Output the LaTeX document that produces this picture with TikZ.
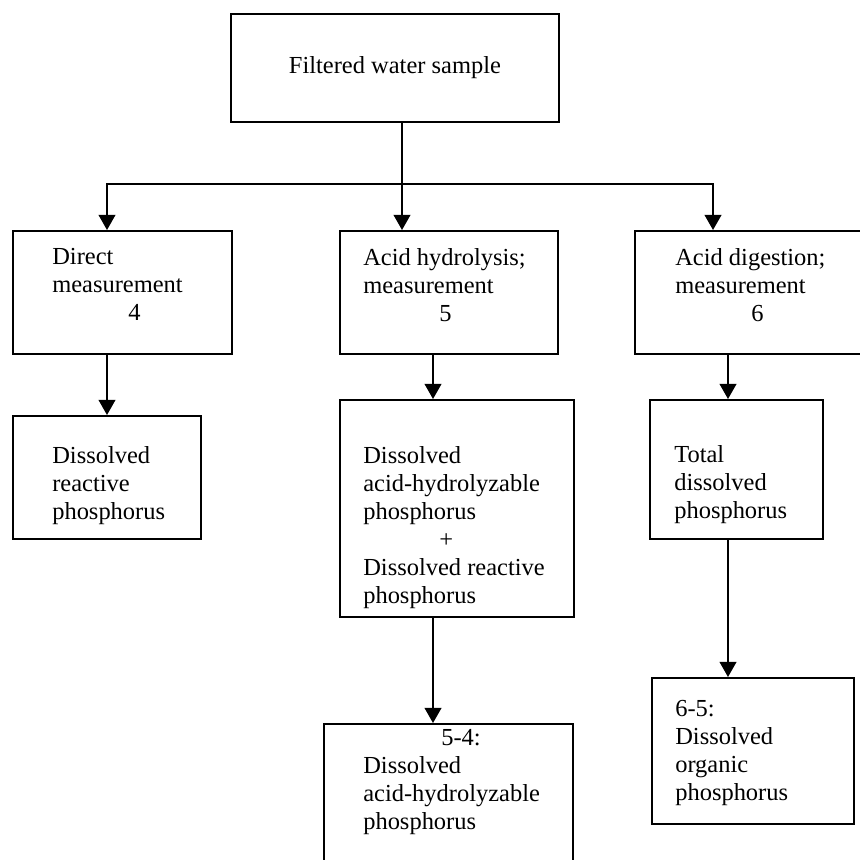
\documentclass[tikz,border=0pt]{standalone}
\usepackage{fontspec}
\setmainfont{Liberation Serif}
\usetikzlibrary{positioning,arrows.meta}

\tikzset{
	Box/.style={draw=black, line width=1.3pt, rectangle, anchor=north west, inner sep=0pt,
	font=\fontsize{17.4}{19.9}\selectfont}
}
\tikzset{
	Txt/.style={anchor=north west, inner sep=0pt, align=left,
	font=\fontsize{17.4}{19.9}\selectfont}
}
\tikzset{
	Flow/.style={black, line width=1.3pt, -{Triangle[length=0.38cm,width=0.42cm]}}
}

\begin{document}
\begin{tikzpicture}[x=0.025cm,y=-0.025cm]
\useasboundingbox (0,0) rectangle (860,860);

%Kaesten
\node[Box, minimum width=8.2cm, minimum height=2.7cm] (sample) at (230,13) {Filtered water sample};
\node[Box, minimum width=5.475cm, minimum height=3.075cm] (direct) at (12,230) {};
\node[Box, minimum width=5.45cm, minimum height=3.075cm] (hydro) at (339,230) {};
\node[Box, minimum width=6.025cm, minimum height=3.075cm] (digest) at (634,230) {};
\node[Box, minimum width=4.7cm, minimum height=3.075cm] (reactive) at (12,415) {};
\node[Box, minimum width=5.85cm, minimum height=5.425cm] (hydrores) at (339,399) {};
\node[Box, minimum width=4.325cm, minimum height=3.475cm] (total) at (649,399) {};
\node[Box, minimum width=6.225cm, minimum height=3.8cm] (acidhyd) at (323,723) {};
\node[Box, minimum width=5.05cm, minimum height=3.65cm] (organic) at (651,677) {};

%Texte
\node[Txt, below right=0.45cm and 1cm of direct.north west] (directtxt) {Direct\\measurement\\\hspace*{1.9cm}4};
\node[Txt, below right=0.45cm and 0.6cm of hydro.north west] (hydrotxt) {Acid hydrolysis;\\measurement\\\hspace*{1.9cm}5};
\node[Txt, below right=0.45cm and 1.025cm of digest.north west] (digesttxt) {Acid digestion;\\measurement\\\hspace*{1.9cm}6};
\node[Txt, below right=0.775cm and 1cm of reactive.north west] (reactivetxt) {Dissolved\\reactive\\phosphorus};
\node[Txt, below right=1.175cm and 0.6cm of hydrores.north west] (hydrorestxt) {Dissolved\\acid-hydrolyzable\\phosphorus\\\hspace*{1.9cm}+\\Dissolved reactive\\phosphorus};
\node[Txt, below right=1.15cm and 0.625cm of total.north west] (totaltxt) {Total\\dissolved\\phosphorus};
\node[Txt, below right=0.15cm and 1cm of acidhyd.north west] (acidhydtxt) {\hspace*{1.95cm}5-4:\\Dissolved\\acid-hydrolyzable\\phosphorus};
\node[Txt, below right=0.575cm and 0.6cm of organic.north west] (organictxt) {6-5:\\Dissolved\\organic\\phosphorus};

%Pfeile
\coordinate (split) at (402,184);
\coordinate (c0) at (402,0);
\coordinate (c1) at (107,0);
\coordinate (c2) at (433,0);
\coordinate (c3) at (713,0);
\coordinate (c4) at (728,0);

\draw[Flow] (c0 |- sample.south) -- (c0 |- hydro.north);
\draw[Flow] (split) -| (c1 |- direct.north);
\draw[Flow] (split) -| (c3 |- digest.north);
\draw[Flow] (c1 |- direct.south) -- (c1 |- reactive.north);
\draw[Flow] (c2 |- hydro.south) -- (c2 |- hydrores.north);
\draw[Flow] (c2 |- hydrores.south) -- (c2 |- acidhyd.north);
\draw[Flow] (c4 |- digest.south) -- (c4 |- total.north);
\draw[Flow] (c4 |- total.south) -- (c4 |- organic.north);
\end{tikzpicture}
\end{document}
